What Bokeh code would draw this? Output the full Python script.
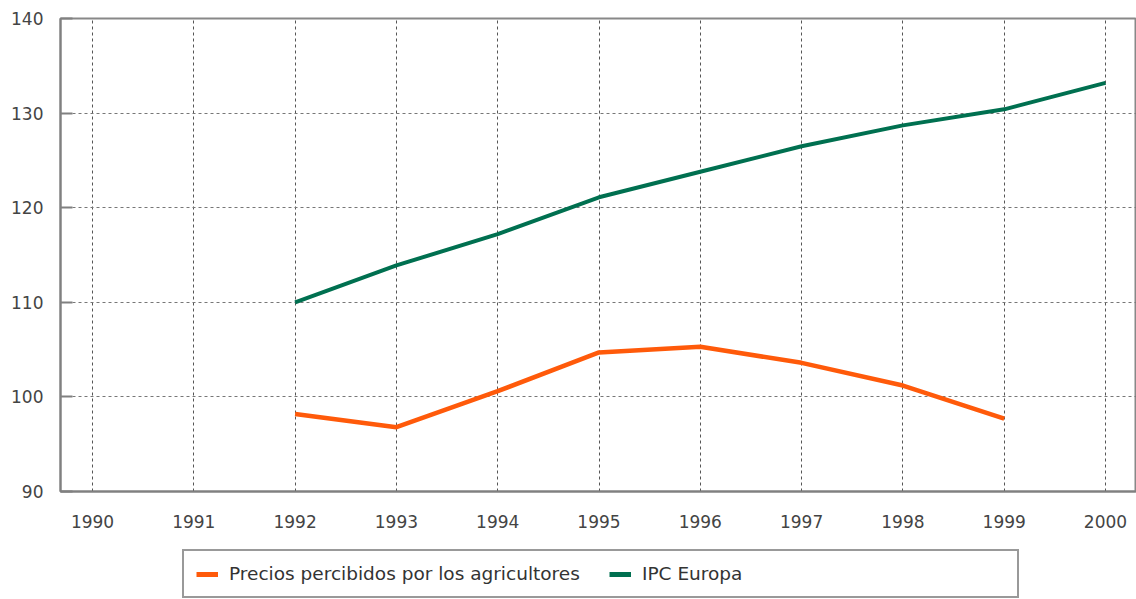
from bokeh.plotting import figure
from bokeh.models import Range1d, FixedTicker, Legend, LegendItem
from bokeh.layouts import column
from bokeh.embed import file_html
from bokeh.resources import INLINE

years = [1990, 1991, 1992, 1993, 1994, 1995, 1996, 1997, 1998, 1999, 2000]
precios_years = [1992, 1993, 1994, 1995, 1996, 1997, 1998, 1999]
precios = [98.2, 96.8, 100.6, 104.7, 105.3, 103.6, 101.2, 97.7]
ipc_years = [1992, 1993, 1994, 1995, 1996, 1997, 1998, 1999, 2000]
ipc = [110.0, 113.9, 117.2, 121.1, 123.8, 126.5, 128.7, 130.4, 133.2]
y_ticks = [90, 100, 110, 120, 130, 140]
label_precios = "Precios percibidos por los agricultores"
label_ipc = "IPC Europa"

FONT = "DejaVu Sans"
ORANGE = "#ff5a0a"
GREEN = "#007050"

p = figure(width=1136, height=536, output_backend="svg", toolbar_location=None,
           x_range=Range1d(1989.684, 2000.306), y_range=Range1d(90, 140),
           min_border_left=60, min_border_right=0, min_border_top=18, min_border_bottom=45)

p.outline_line_color = "#888888"
p.outline_line_width = 2
p.background_fill_color = "white"
p.border_fill_color = "white"

# axes
p.xaxis.ticker = FixedTicker(ticks=years)
p.yaxis.ticker = FixedTicker(ticks=y_ticks)
for ax in (p.xaxis[0], p.yaxis[0]):
    ax.axis_line_color = "#808080"
    ax.axis_line_width = 2
    ax.minor_tick_line_color = None
    ax.major_label_text_font = FONT
    ax.major_label_text_font_size = "17px"
    ax.major_label_text_color = "#444444"
p.xaxis.major_tick_line_color = None
p.xaxis.major_label_standoff = 17
p.yaxis.major_tick_in = 12
p.yaxis.major_tick_out = 0
p.yaxis.major_tick_line_color = "#808080"
p.yaxis.major_tick_line_width = 2
p.yaxis.major_label_standoff = 17

# grid
p.xgrid.grid_line_color = "#555555"
p.xgrid.grid_line_dash = "3 3"
p.xgrid.grid_line_width = 1
p.ygrid.grid_line_color = "#777777"
p.ygrid.grid_line_dash = "3 3"
p.ygrid.grid_line_width = 1

p.line(precios_years, precios, line_color=ORANGE, line_width=4.5)
p.line(ipc_years, ipc, line_color=GREEN, line_width=4)

# legend panel
p2 = figure(width=1136, height=63, output_backend="svg", toolbar_location=None,
            x_range=Range1d(0, 1), y_range=Range1d(0, 1),
            min_border_left=0, min_border_right=0, min_border_top=0, min_border_bottom=0)
p2.axis.visible = False
p2.grid.visible = False
p2.outline_line_color = None
p2.border_fill_color = "white"
l1 = p2.line(x=[5, 6], y=[5, 6], line_color=ORANGE, line_width=5)
l2 = p2.line(x=[5, 6], y=[5, 6], line_color=GREEN, line_width=5)

legend = Legend(items=[LegendItem(label=label_precios, renderers=[l1]),
                       LegendItem(label=label_ipc, renderers=[l2])],
                location=(122, 1), orientation="horizontal")
legend.padding = 12
legend.spacing = 17
legend.glyph_width = 22
legend.glyph_height = 12
legend.label_height = 12
legend.label_standoff = 11
legend.label_width = 363
legend.label_text_font = FONT
legend.label_text_font_size = "18.5px"
legend.label_text_color = "#333333"
legend.border_line_color = "#333333"
legend.border_line_width = 2
legend.background_fill_color = "white"
legend.background_fill_alpha = 1
legend.margin = 0
p2.add_layout(legend, "center")

open("out.html", "w").write(file_html(column(p, p2, spacing=0), INLINE))
